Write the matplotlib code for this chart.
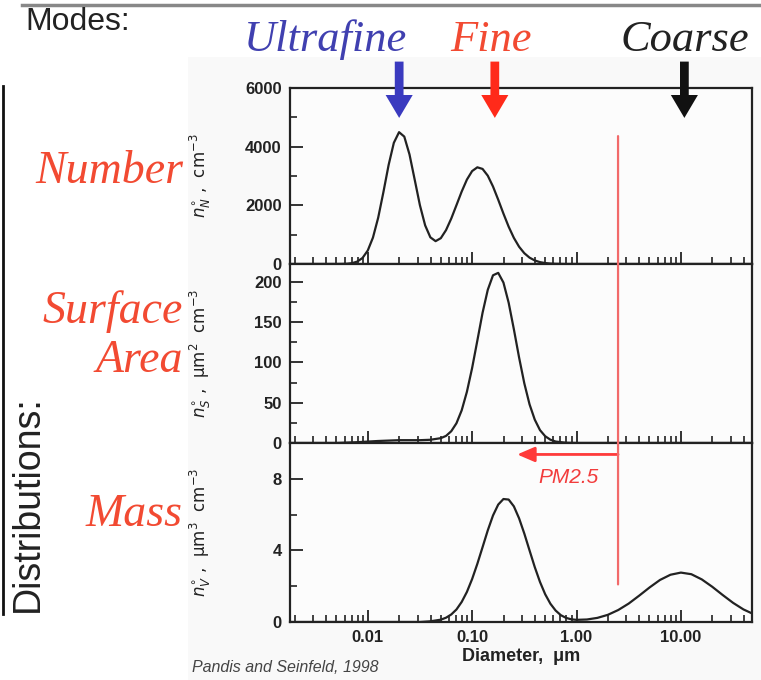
import numpy as np
import matplotlib.pyplot as plt
from matplotlib.lines import Line2D
from matplotlib.patches import Rectangle, ConnectionPatch
from matplotlib.ticker import LogLocator, NullFormatter, FixedLocator

########################### data ################################
# log10 of diameter (um) and the distributions
logd_number = [-2.80, -2.30, -2.25, -2.20, -2.15, -2.10, -2.05, -2.00, -1.95, -1.90,
               -1.85, -1.80, -1.75, -1.70, -1.65, -1.60, -1.55, -1.50, -1.45, -1.40,
               -1.35, -1.30, -1.25, -1.20, -1.15, -1.10, -1.05, -1.00, -0.95, -0.90,
               -0.85, -0.80, -0.75, -0.70, -0.65, -0.60, -0.55, -0.50, -0.45, -0.40,
               -0.35, -0.30, -0.25, -0.20, -0.10, 1.80]
number_conc = [0, 1, 3, 9, 29, 83, 206, 458, 901, 1577,
               2448, 3375, 4131, 4494, 4343, 3736, 2873, 2001, 1317, 909,
               779, 880, 1155, 1548, 2006, 2469, 2877, 3168, 3296, 3241,
               3011, 2642, 2192, 1718, 1272, 890, 588, 368, 217, 121,
               64, 32, 15, 6, 0, 0]

logd_surface = [-2.80, -2.30, -2.10, -1.90, -1.70, -1.50, -1.40, -1.30, -1.25, -1.20,
                -1.15, -1.10, -1.05, -1.00, -0.95, -0.90, -0.85, -0.80, -0.75, -0.70,
                -0.65, -0.60, -0.55, -0.50, -0.45, -0.40, -0.35, -0.30, -0.25, -0.20,
                -0.10, 0.00, 1.80]
surface_conc = [0, 0, 1, 2.5, 3.5, 3.5, 4, 6, 8.8, 14.6,
                24.5, 40.5, 63.5, 93, 127, 161.5, 190, 208, 211, 199,
                174, 141, 106, 74, 48, 29, 16, 8.4, 4.1, 1.8,
                0.3, 0, 0]

logd_mass = [-2.80, -1.50, -1.40, -1.30, -1.25, -1.20, -1.15, -1.10, -1.05, -1.00,
             -0.95, -0.90, -0.85, -0.80, -0.75, -0.70, -0.65, -0.60, -0.55, -0.50,
             -0.45, -0.40, -0.35, -0.30, -0.25, -0.20, -0.15, -0.10, -0.05, 0.00,
             0.10, 0.20, 0.30, 0.40, 0.50, 0.60, 0.70, 0.80, 0.90, 1.00,
             1.10, 1.20, 1.30, 1.40, 1.50, 1.60, 1.70]
mass_conc = [0, 0, 0.04, 0.13, 0.24, 0.42, 0.70, 1.12, 1.68, 2.40,
             3.25, 4.18, 5.12, 5.95, 6.56, 6.87, 6.84, 6.46, 5.79, 4.94,
             4.00, 3.07, 2.24, 1.55, 1.02, 0.64, 0.38, 0.23, 0.15, 0.12,
             0.14, 0.23, 0.40, 0.67, 1.03, 1.47, 1.93, 2.35, 2.64, 2.76,
             2.67, 2.38, 1.97, 1.51, 1.07, 0.70, 0.43]

mode_names = ['Ultrafine', 'Fine', 'Coarse']
mode_diam = [0.020, 0.165, 10.8]
mode_colors = ['#3a3abf', '#ff2a1a', '#111111']
mode_text_colors = ['#4040b0', '#f24a32', '#222222']
dist_names = ['Number', 'Surface\nArea', 'Mass']

x_ticks = [0.01, 0.1, 1, 10]
x_ticklabels = ['0.01', '0.10', '1.00', '10.00']
pm_cut = 2.5
##################################################################

W, H = 761, 680
fig = plt.figure(figsize=(W / 100, H / 100), dpi=100)
fig.patch.set_facecolor('white')

def fx(px):
    return px / W

def fy(py):
    return 1 - py / H

# light background of the scanned figure
fig.add_artist(Rectangle((fx(188), 0), 1, fy(57), transform=fig.transFigure,
                         facecolor='#f9f9f9', edgecolor='none', zorder=0))

left, right = fx(290), fx(752)
ax_n = fig.add_axes([left, fy(264), right - left, fy(88) - fy(264)])
ax_s = fig.add_axes([left, fy(443), right - left, fy(264) - fy(443)])
ax_v = fig.add_axes([left, fy(622), right - left, fy(443) - fy(622)])

tick_font = dict(family='Liberation Sans', weight='bold', size=12)
line_col = '#222222'

panels = [
    (ax_n, logd_number, number_conc, (0, 6000), [0, 2000, 4000, 6000], [1000, 3000, 5000],
     r'$n^{\circ}_{N}$ ,  cm$^{-3}$'),
    (ax_s, logd_surface, surface_conc, (0, 222), [0, 50, 100, 150, 200], [25, 75, 125, 175],
     r'$n^{\circ}_{S}$ ,  μm$^{2}$  cm$^{-3}$'),
    (ax_v, logd_mass, mass_conc, (0, 10), [0, 4, 8], [2, 6],
     r'$n^{\circ}_{V}$ ,  μm$^{3}$  cm$^{-3}$'),
]

for ax, logd, conc, ylim, yt, ymt, ylab in panels:
    ax.set_facecolor('#fcfcfc')
    ax.plot(10 ** np.array(logd), conc, color=line_col, lw=1.6, zorder=3)
    ax.set_xscale('log')
    ax.set_xlim(0.0018, 48)
    ax.set_ylim(*ylim)
    ax.yaxis.set_major_locator(FixedLocator(yt))
    ax.yaxis.set_minor_locator(FixedLocator(ymt))
    ax.xaxis.set_major_locator(FixedLocator(x_ticks))
    ax.xaxis.set_minor_locator(LogLocator(base=10, subs=np.arange(2, 10)))
    ax.xaxis.set_minor_formatter(NullFormatter())
    ax.tick_params(axis='both', which='major', direction='in', length=9, width=1.3,
                   color='#222', pad=6)
    ax.tick_params(axis='both', which='minor', direction='in', length=5, width=1.2,
                   color='#222')
    ax.tick_params(axis='x', which='both', top=False)
    ax.tick_params(axis='y', which='both', right=False)
    for sp in ax.spines.values():
        sp.set_linewidth(1.6)
        sp.set_color('#222')
    ax.set_yticklabels([str(v) for v in yt], fontdict=tick_font, color='#222')
    ax.set_ylabel(ylab, fontsize=12, family='DejaVu Sans', color='#222')
    ax.yaxis.set_label_coords(-0.167, 0.5)

for ax in (ax_n, ax_s):
    ax.set_xticklabels([])
ax_v.set_xticklabels(x_ticklabels, fontdict=tick_font, color='#222')
ax_v.set_xlabel('Diameter,  μm', fontdict=dict(family='Liberation Sans', weight='bold', size=13),
                color='#222', labelpad=2)

# mode arrows above the number panel
for d, c in zip(mode_diam, mode_colors):
    ax_n.annotate('', xy=(d, 0.83), xytext=(d, 1.15),
                  xycoords=('data', 'axes fraction'), textcoords=('data', 'axes fraction'),
                  annotation_clip=False,
                  arrowprops=dict(arrowstyle='simple,head_width=1.3,head_length=1.1,tail_width=0.42',
                                  fc=c, ec='none', shrinkA=0, shrinkB=0, mutation_scale=15))

# mode names (Ultrafine sits left of its arrow, as in the slide)
for name, xpx, c in zip(mode_names, [326, 491, 685], mode_text_colors):
    fig.text(fx(xpx), fy(40), name, ha='center', va='center', fontsize=32,
             style='italic', family='Liberation Serif', color=c)

# PM2.5 cut line and arrow
con = ConnectionPatch(xyA=(pm_cut, 4360), coordsA=ax_n.transData,
                      xyB=(pm_cut, 2.1), coordsB=ax_v.transData,
                      color='#f26a6a', lw=1.6, zorder=5)
fig.add_artist(con)
ax_v.annotate('', xy=(0.27, 9.36), xytext=(pm_cut, 9.36),
              arrowprops=dict(arrowstyle='-|>,head_length=0.7,head_width=0.3', color='#ff3a3a',
                              lw=2, shrinkA=0, shrinkB=0, mutation_scale=15))
ax_v.text(0.84, 8.1, 'PM2.5', ha='center', va='center', fontsize=15, style='italic',
          family='Liberation Sans', color='#f23c3c')

# labels around the plot
fig.text(fx(25), fy(22), 'Modes:', ha='left', va='center', fontsize=23,
         family='Liberation Sans', color='#222')
fig.add_artist(Line2D([fx(22), 1], [fy(5), fy(5)], transform=fig.transFigure,
                      color='#888', lw=2.5))
fig.add_artist(Line2D([fx(3), fx(3)], [fy(86), fy(614)], transform=fig.transFigure,
                      color='#111', lw=2))
fig.text(fx(28), fy(504), 'Distributions:', rotation=90, ha='center', va='center',
         fontsize=27, family=['Liberation Sans Narrow', 'Liberation Sans'], color='#222')

for name, ypx in zip(dist_names, [172, 336, 515]):
    fig.text(fx(183), fy(ypx), name, ha='right', va='center', fontsize=33,
             style='italic', family='Liberation Serif', color='#f24a32',
             linespacing=1.2)

fig.text(fx(192), fy(668), 'Pandis and Seinfeld, 1998', ha='left', va='center',
         fontsize=11.5, style='italic', family='Liberation Sans', color='#444')

fig.savefig('out.png', dpi=100)
